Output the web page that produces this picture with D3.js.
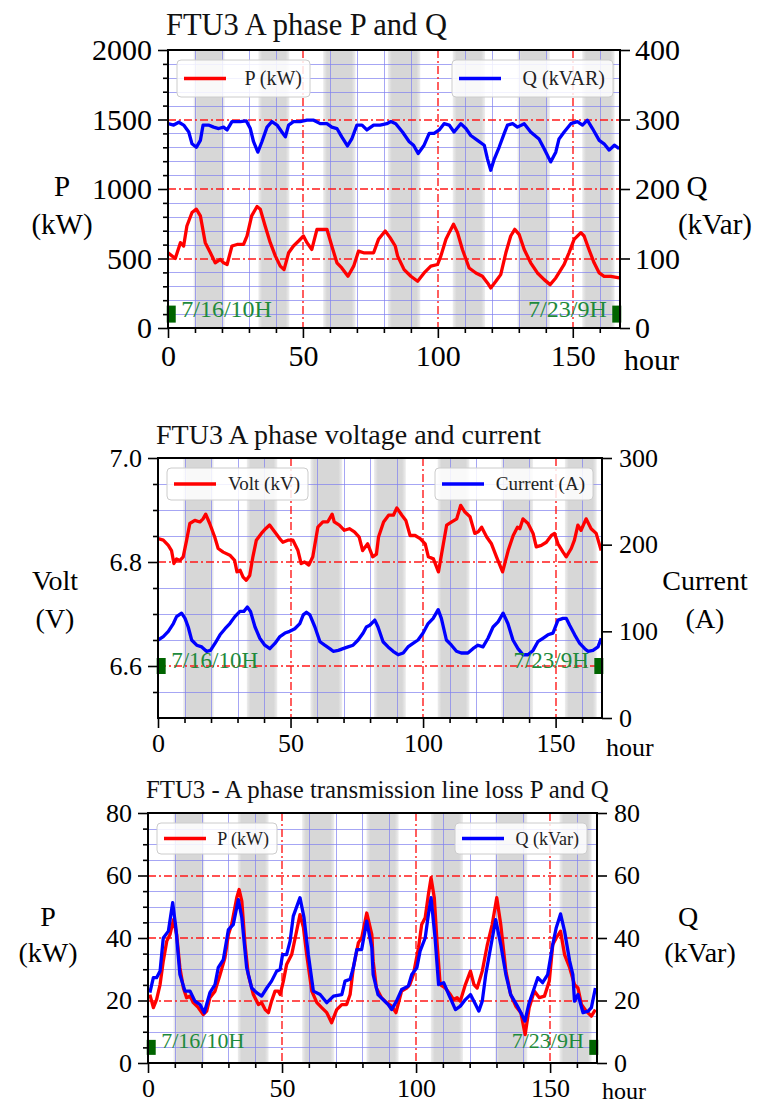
<!DOCTYPE html>
<html><head><meta charset="utf-8">
<script src="https://cdn.jsdelivr.net/npm/d3@7"></script>
<style>body{margin:0;background:#fff}svg{display:block}text{font-family:"Liberation Serif","Times New Roman",serif}</style>
</head><body><svg id="c" width="757" height="1104"></svg>
<script>
// ---------------- shared data ----------------
const X_MAX = 167.5;
const xMajorTicks = [0, 50, 100, 150];
const xMinorTicks = [0,10,20,30,40,50,60,70,80,90,100,110,120,130,140,150,160];
const bandStart = [9.5, 33.5, 57.5, 81.5, 105.5, 129.5, 153.5];
const bandEnd   = [21, 45, 69.5, 93.5, 117.5, 141.5, 165.5];
const startLabel = "7/16/10H", endLabel = "7/23/9H";
const markerHours = [1.2, 166.3];

// ---------------- panel 1: P and Q ----------------
const p1Title = "FTU3 A phase P and Q";
const p1Legend = ["P (kW)", "Q (kVAR)"];
const p1LeftTicks = [0, 500, 1000, 1500, 2000];
const p1RightTicks = [0, 100, 200, 300, 400];
const p1P = [[0,541],[2.7,500],[4.6,614],[5.8,590],[7,734],[8.9,831],[10.5,855],[12,807],[13.8,614],[15.7,541],[17.5,469],[19.4,493],[20.6,469],[21.9,457],[23.7,590],[25.6,601],[28,601],[29.3,662],[31,807],[33,874],[34.2,855],[36,734],[37.9,614],[39.8,517],[41.6,445],[43,420],[44.7,541],[46.5,590],[48.4,626],[50.2,662],[51.5,614],[53.3,565],[55.2,710],[57.7,710],[58.9,710],[60.7,590],[62.6,469],[64.4,432],[66.7,372],[68.8,445],[70.6,553],[72.5,541],[74.3,541],[76.2,541],[78,638],[80.5,698],[82.3,650],[84.2,590],[85.1,517],[87.5,420],[90,372],[92.5,336],[94.9,396],[97.4,445],[99.9,457],[101.1,517],[103,638],[104.2,686],[105.8,746],[107.3,686],[109.1,565],[111.6,432],[114.1,396],[116.5,372],[118.4,324],[119.6,288],[121.5,336],[123.3,384],[125.2,541],[127,662],[128.5,710],[130.1,674],[132,565],[134.4,469],[136.9,396],[139.4,348],[141.6,312],[143.7,360],[145.6,420],[146.8,457],[148.6,541],[150.5,638],[153,686],[154.2,662],[156,565],[157.9,469],[159.8,396],[161.6,372],[164.1,372],[167.2,360]];
const p1Q = [[0,294],[2.1,292],[4,296],[5.8,292],[7.7,282],[8.9,265],[10.5,260],[12,270],[13,292],[15,292],[16.9,289],[18.8,287],[20.6,289],[21.9,285],[23.7,297],[26.8,297],[29,298],[30.5,287],[31.7,268],[33.3,253],[34.8,268],[36.7,289],[38.5,297],[40.4,292],[42.2,282],[43.5,275],[44.7,292],[46.5,297],[49,297],[51.5,299],[54,299],[56.4,294],[58.9,294],[60.7,289],[62.6,287],[64.4,275],[66.5,262],[68.1,272],[70,292],[71.9,292],[73.7,285],[76.2,292],[78.6,292],[81.1,294],[82.6,297],[84.4,294],[86.9,282],[89.4,268],[91,263],[92.7,251],[94.9,263],[96.8,280],[98.6,280],[100.5,285],[102.3,294],[104.2,292],[106,282],[108.5,294],[110.4,287],[112.2,277],[114.7,270],[117.2,263],[118.4,243],[119.6,227],[120.9,243],[122.7,260],[124.6,280],[125.8,292],[127.7,294],[129.5,289],[132,294],[134.4,282],[137.5,272],[139.4,258],[141.8,239],[143.7,253],[144.9,272],[146.8,282],[149.3,294],[151.7,297],[153.6,292],[155.4,299],[157.3,287],[159.8,270],[161.6,265],[163.5,256],[165.4,263],[167.2,258]];

// ---------------- panel 2: voltage and current ----------------
const p2Title = "FTU3 A phase voltage and current";
const p2Legend = ["Volt (kV)", "Current (A)"];
const p2LeftTicks = [6.6, 6.8, 7.0];
const p2RightTicks = [0, 100, 200, 300];
const p2Volt = [[0,6.845],[2,6.842],[3.9,6.832],[5.1,6.822],[6,6.797],[7,6.806],[8.3,6.803],[9.5,6.81],[10.8,6.842],[12,6.874],[13.9,6.88],[15.8,6.877],[17,6.883],[18,6.892],[19.5,6.874],[21.4,6.848],[22.7,6.826],[24.6,6.819],[27.1,6.813],[28.9,6.803],[29.8,6.781],[31,6.784],[32.1,6.771],[33.3,6.765],[34.6,6.774],[35.8,6.81],[37.1,6.842],[39,6.855],[40.6,6.864],[42.1,6.871],[44,6.858],[45.9,6.845],[47.1,6.838],[49,6.842],[50.9,6.842],[52.8,6.822],[54,6.797],[55.3,6.8],[56.9,6.794],[58.4,6.81],[60.3,6.867],[62.2,6.877],[64,6.877],[65.7,6.892],[66.5,6.877],[68.4,6.871],[70.3,6.861],[72.2,6.864],[74.1,6.858],[75.9,6.848],[77.2,6.822],[79.1,6.835],[81,6.81],[82.4,6.815],[83.2,6.848],[85.1,6.877],[87,6.89],[88.8,6.89],[90.1,6.904],[92,6.89],[93.5,6.88],[95.1,6.851],[97,6.851],[98.9,6.845],[100.8,6.835],[102,6.81],[103.9,6.806],[105.8,6.781],[107,6.816],[108.9,6.871],[110.8,6.877],[112.7,6.883],[114.2,6.909],[115.8,6.896],[117.7,6.887],[119.5,6.855],[120.8,6.858],[122.1,6.867],[124,6.848],[125.8,6.835],[127.7,6.81],[130,6.781],[132.1,6.822],[134,6.851],[135.6,6.867],[136.5,6.864],[137.7,6.883],[139.6,6.874],[141.5,6.855],[142.7,6.829],[144.6,6.832],[146.5,6.838],[148.4,6.851],[149.6,6.855],[150.9,6.835],[152.8,6.819],[154,6.81],[155.9,6.826],[157.1,6.842],[158.4,6.871],[159.6,6.861],[161.5,6.883],[163.4,6.864],[165.3,6.855],[167.2,6.822]];
const p2Current = [[0,90],[2,94],[3.9,100],[5.8,109],[7,117],[8.9,121],[10.2,115],[11.4,105],[12.7,90],[14.6,84],[16.5,82],[18.3,77],[19.8,78],[21.5,86],[23.4,96],[25.3,103],[27.1,109],[29,117],[30.9,123],[32.4,123],[33.7,128],[34.9,123],[36.6,105],[38.4,92],[40.3,84],[42.2,80],[44.1,86],[46,94],[47.9,98],[49.7,100],[51.6,103],[53.5,109],[54.8,119],[56,122],[57.3,119],[59.2,105],[61.1,88],[62.9,84],[64.8,80],[66.1,77],[68,78],[69.8,80],[71.7,82],[73.6,84],[75.5,90],[77.4,98],[78.6,105],[79.9,107],[81.8,113],[83,105],[84.9,88],[86.8,82],[88.7,77],[90.6,73],[92.5,75],[94.3,82],[96.2,86],[98.1,90],[100,98],[101.9,109],[103.8,115],[105.7,125],[106.9,115],[108.8,90],[110.7,84],[112.6,77],[114.4,75],[116.9,75],[118.8,80],[120.7,84],[122.6,82],[124.5,92],[126.4,105],[128.3,111],[130.2,121],[132,109],[133.9,90],[135.8,80],[137.7,73],[139.6,73],[141.5,78],[143.3,88],[145.2,92],[147.1,96],[149,98],[150.9,113],[152.8,115],[154,115],[155.3,107],[157.2,96],[159.1,86],[161,80],[162.2,77],[164.1,78],[166,82],[167.2,92]];

// ---------------- panel 3: line loss P and Q ----------------
const p3Title = "FTU3 - A phase transmission line loss P and Q";
const p3Legend = ["P (kW)", "Q (kVar)"];
const p3LeftTicks = [0, 20, 40, 60, 80];
const p3RightTicks = [0, 20, 40, 60, 80];
const p3P = [[0.7,21.9],[2,17.7],[3.2,20.3],[4.5,25.1],[5.7,32.6],[7,39],[8.2,41.1],[9.5,45.9],[10.7,41.1],[11.9,30.5],[13.2,24],[14.4,20.9],[15.7,21.4],[16.9,19.3],[18.8,17.7],[20.6,15.5],[21.9,16.6],[23.1,20.9],[25,23],[26.9,28.3],[28.7,33.7],[30,41.1],[31.2,44.3],[33.1,52.9],[34,55.5],[35,51.8],[36.2,37.9],[37.4,28.3],[39.3,21.9],[41.2,18.7],[42.4,19.3],[43.7,17.1],[44.9,16.1],[46.1,19.8],[47.4,23],[48.6,23],[49.3,21.9],[50.5,26.2],[51.7,31.5],[53.6,34.7],[54.9,40],[56.7,47.5],[58,43.3],[59.2,34.7],[61.1,23],[63,19.3],[64.8,17.7],[66.7,16.1],[68.5,12.9],[70.4,17.1],[72.3,18.7],[74.1,18.7],[75.4,21.9],[76.6,30.5],[78.5,38.5],[79.7,40],[81.6,48],[83.5,41.1],[84,32.6],[85.2,24],[87.1,20.9],[89,19.3],[90.9,18.2],[92.5,16.1],[94.6,23],[96.5,24],[97.7,25.1],[99,28.3],[100.9,36.9],[102.1,44.3],[103.4,46.5],[104.6,53.9],[105.6,59.3],[106.8,52.9],[107.8,38.9],[109,25.1],[110.9,24],[112.8,21.9],[114,20.3],[115.3,20.9],[116.5,19.8],[118.4,25.1],[120.3,29.4],[121.6,25.1],[122.8,24],[124.7,29.4],[126.6,37.9],[128.4,44.3],[130.1,52.9],[131.6,44.3],[133.5,29.4],[135.3,21.9],[137.2,18.2],[139.1,16.1],[140.7,9.1],[142.2,17.7],[144.1,23],[146,20.9],[147.9,21.4],[149.7,26.2],[151,37.9],[152.3,40],[153.9,42.2],[155.4,34.7],[157.3,30.5],[159.1,25.1],[160.4,24],[161.7,18.7],[163.5,16.6],[165.4,15],[166.9,17.1]];
const p3Q = [[0.7,22.5],[2,27.3],[3.2,27.3],[4.5,29.4],[5.7,40],[7.6,42.2],[9.2,51.3],[10.4,43.3],[11.9,28.3],[13.8,23],[15.7,23],[17.5,19.8],[19.4,18.7],[21,16.1],[23.1,22.5],[25,25.1],[26.2,30.5],[28.1,33.1],[30,42.7],[31.8,44.3],[33.7,52.3],[35,46.5],[36.8,30.5],[38.7,24],[40.5,22.5],[42.4,21.4],[44.3,24],[46.1,26.2],[48,29.4],[49.3,29.9],[50.2,34.7],[51.7,34.7],[53,39],[54.2,47],[56.7,52.9],[58.2,46.5],[59.8,34.7],[61.7,23],[64.2,21.9],[66.7,19.3],[69.2,21.4],[72.3,21.9],[73.5,26.2],[75.4,26.8],[76.6,30.5],[77.9,36.3],[79.7,36.3],[81.6,45.4],[83.5,36.9],[84,28.3],[85.8,21.9],[87.7,20.3],[89.6,18.7],[90.9,17.1],[92.7,19.8],[94.6,23.5],[97.1,24.6],[98.4,28.3],[100.3,30.5],[101.5,35.8],[103.4,40],[104.6,47.5],[105.6,52.9],[107.1,40],[108.4,25.1],[110.3,25.7],[112.2,21.9],[114.7,17.1],[116.5,18.2],[118.4,20.3],[120.3,21.9],[122.2,18.7],[123.4,16.6],[124.7,19.8],[126,28.3],[127.8,36.9],[129.7,45.9],[131.6,37.9],[133.5,28.3],[135.3,21.9],[137.8,18.2],[139.1,16.1],[140.6,13.4],[142.2,19.3],[143.5,22.5],[145.4,27.3],[147.2,25.7],[149.1,28.3],[151,37.9],[152.3,43.3],[153.9,47.7],[155.4,42.2],[157.3,32.6],[158.5,28.3],[159.1,19.8],[160.4,21.9],[162.3,16.1],[164.2,16.6],[165.4,17.7],[166.9,24]];

// ---------------- layout / style (not data) ----------------
const panels = [
  { title:p1Title, titleSize:30.5, titleDy:15, l:168, r:620, t:50, b:328,
    yL:[0,2000], yR:[0,400], minorStep:100, majors:p1LeftTicks, leftTicks:p1LeftTicks, rightTicks:p1RightTicks,
    fmtL:d3.format("d"), fs:30, xPad:7, rPad:5, hourFs:30, hourY:370, hourX:4, legFs:20,
    series:[{data:p1P, axis:"L", color:"#ff0000"},{data:p1Q, axis:"R", color:"#0000ff"}],
    legend:[{text:p1Legend[0], color:"#ff0000", x:177, w:133},{text:p1Legend[1], color:"#0000ff", x:452, w:161}], legY:60, legH:37,
    markerVal:100, markerH:17, greenFs:24, greenY:317,
    sideL:[["P",62,196],["(kW)",62,234]], sideR:[["Q",697,196],["(kVar)",715,234]], sideFs:29 },
  { title:p2Title, titleSize:28, titleDy:14, l:158, r:602, t:458, b:718,
    yL:[6.5,7.0], yR:[0,300], minorStep:0.05, majors:p2LeftTicks, leftTicks:p2LeftTicks, rightTicks:p2RightTicks,
    fmtL:d3.format(".1f"), fs:26, xPad:6, rPad:7, hourFs:26, hourY:756, hourX:4, legFs:19,
    series:[{data:p2Volt, axis:"L", color:"#ff0000"},{data:p2Current, axis:"R", color:"#0000ff"}],
    legend:[{text:p2Legend[0], color:"#ff0000", x:167, w:141},{text:p2Legend[1], color:"#0000ff", x:435, w:158}], legY:468, legH:32,
    markerVal:6.6, markerH:16, greenFs:23, greenY:668,
    sideL:[["Volt",55,590],["(V)",55,628]], sideR:[["Current",705,590],["(A)",705,628]], sideFs:28 },
  { title:p3Title, titleSize:24.8, titleDy:15, l:148, r:597, t:813, b:1063,
    yL:[0,80], yR:[0,80], minorStep:5, majors:p3LeftTicks, leftTicks:p3LeftTicks, rightTicks:p3RightTicks,
    fmtL:d3.format("d"), fs:26, xPad:6, rPad:7, hourFs:24, hourY:1098.5, hourX:5, legFs:18,
    series:[{data:p3P, axis:"L", color:"#ff0000"},{data:p3Q, axis:"R", color:"#0000ff"}],
    legend:[{text:p3Legend[0], color:"#ff0000", x:157, w:120},{text:p3Legend[1], color:"#0000ff", x:455, w:132}], legY:823, legH:31,
    markerVal:5, markerH:15, greenFs:22, greenY:1048,
    sideL:[["P",48,926],["(kW)",48,962]], sideR:[["Q",688,926],["(kVar)",700,962]], sideFs:28 }
];

const svg = d3.select("#c");
const defs = svg.append("defs");
const grad = defs.append("linearGradient").attr("id","bandGrad").attr("x1","0").attr("x2","1").attr("y1","0").attr("y2","0");
[[0,"#eeeeee"],[0.12,"#d7d7d7"],[0.88,"#d7d7d7"],[1,"#eeeeee"]].forEach(([o,c])=>grad.append("stop").attr("offset",o).attr("stop-color",c));

const px = v => Math.round(v) + 0.5;

panels.forEach((cfg,pi)=>{
  const g = svg.append("g");
  const x = d3.scaleLinear().domain([0,X_MAX]).range([cfg.l,cfg.r]);
  const yL = d3.scaleLinear().domain(cfg.yL).range([cfg.b,cfg.t]);
  const yR = d3.scaleLinear().domain(cfg.yR).range([cfg.b,cfg.t]);
  const cid = "clip"+pi;
  defs.append("clipPath").attr("id",cid).append("rect").attr("x",cfg.l).attr("y",cfg.t).attr("width",cfg.r-cfg.l).attr("height",cfg.b-cfg.t);

  // title
  g.append("text").attr("x",cfg.l-2).attr("y",cfg.t-cfg.titleDy).attr("font-size",cfg.titleSize).attr("fill","#111").text(cfg.title);

  // bands
  g.append("g").selectAll("rect").data(d3.zip(bandStart,bandEnd)).join("rect")
    .attr("x",d=>x(d[0])).attr("width",d=>x(Math.min(d[1],X_MAX))-x(d[0]))
    .attr("y",cfg.t).attr("height",cfg.b-cfg.t).attr("fill","url(#bandGrad)");

  // minor grid
  const eps = 1e-6;
  const nMinor = Math.round((cfg.yL[1]-cfg.yL[0])/cfg.minorStep);
  const minorY = d3.range(1,nMinor).map(i=>cfg.yL[0]+i*cfg.minorStep)
    .filter(v=>!cfg.majors.some(m=>Math.abs(m-v)<eps));
  const minorX = xMinorTicks.filter(v=>v>0 && !xMajorTicks.includes(v));
  const grid = g.append("g").attr("stroke","#8080f0").attr("stroke-opacity",0.7).attr("stroke-width",1).attr("shape-rendering","crispEdges");
  grid.selectAll(".vy").data(minorX).join("line").attr("x1",d=>px(x(d))).attr("x2",d=>px(x(d))).attr("y1",cfg.t).attr("y2",cfg.b);
  grid.selectAll(".hy").data(minorY).join("line").attr("y1",d=>px(yL(d))).attr("y2",d=>px(yL(d))).attr("x1",cfg.l).attr("x2",cfg.r);
  // major grid (red dash-dot)
  const red = g.append("g").attr("stroke","#ff1a1a").attr("stroke-width",1.4).attr("stroke-dasharray","8,3,2,3");
  red.selectAll(".mx").data(xMajorTicks.filter(v=>v>0)).join("line").attr("x1",d=>Math.round(x(d))).attr("x2",d=>Math.round(x(d))).attr("y1",cfg.t).attr("y2",cfg.b);
  red.selectAll(".my").data(cfg.majors.filter(v=>v>cfg.yL[0]+eps && v<cfg.yL[1]-eps)).join("line").attr("y1",d=>Math.round(yL(d))).attr("y2",d=>Math.round(yL(d))).attr("x1",cfg.l).attr("x2",cfg.r);

  // lines
  const lg = g.append("g").attr("clip-path",`url(#${cid})`);
  cfg.series.forEach(s=>{
    const ys = s.axis==="L"? yL : yR;
    lg.append("path").datum(s.data).attr("fill","none").attr("stroke",s.color).attr("stroke-width",3.3)
      .attr("stroke-linejoin","round").attr("d",d3.line().x(d=>x(d[0])).y(d=>ys(d[1])));
  });

  // markers and green labels
  g.append("g").selectAll("rect").data(markerHours).join("rect")
    .attr("x",d=>x(d)-4.5).attr("y",yL(cfg.markerVal)-cfg.markerH/2).attr("width",9).attr("height",cfg.markerH).attr("fill","#006400");
  g.append("text").attr("x",x(markerHours[0])+10).attr("y",cfg.greenY).attr("font-size",cfg.greenFs).attr("fill","#1e8a3c").text(startLabel);
  g.append("text").attr("x",x(markerHours[1])-10).attr("y",cfg.greenY).attr("text-anchor","end").attr("font-size",cfg.greenFs).attr("fill","#1e8a3c").text(endLabel);

  // legends
  cfg.legend.forEach(L=>{
    const lgG = g.append("g");
    lgG.append("rect").attr("x",L.x).attr("y",cfg.legY).attr("width",L.w).attr("height",cfg.legH).attr("rx",4)
      .attr("fill","#fff").attr("fill-opacity",0.85).attr("stroke","#cccccc").attr("stroke-width",1);
    const cy = cfg.legY + cfg.legH/2;
    lgG.append("line").attr("x1",L.x+7).attr("x2",L.x+49).attr("y1",cy).attr("y2",cy).attr("stroke",L.color).attr("stroke-width",3.3);
    lgG.append("text").attr("x",L.x+L.w-8).attr("y",cy).attr("dy","0.34em").attr("text-anchor","end").attr("font-size",cfg.legFs).attr("fill","#222").text(L.text);
  });

  // spines
  g.append("rect").attr("x",cfg.l).attr("y",cfg.t).attr("width",cfg.r-cfg.l).attr("height",cfg.b-cfg.t)
    .attr("fill","none").attr("stroke","#000").attr("stroke-width",2);

  // axes
  const styleAxis = sel=>{ sel.select(".domain").remove(); sel.selectAll(".tick line").attr("stroke","#000").attr("stroke-width",1.6);
    sel.selectAll("text").attr("font-family","Liberation Serif, serif").attr("font-size",cfg.fs).attr("fill","#000"); };
  g.append("g").attr("transform",`translate(${cfg.l},0)`).call(d3.axisLeft(yL).tickValues(minorY).tickSize(5).tickFormat("")).call(styleAxis);
  g.append("g").attr("transform",`translate(${cfg.l},0)`).call(d3.axisLeft(yL).tickValues(cfg.leftTicks).tickSize(10).tickPadding(6).tickFormat(cfg.fmtL)).call(styleAxis);
  g.append("g").attr("transform",`translate(${cfg.r},0)`).call(d3.axisRight(yR).tickValues(cfg.rightTicks).tickSize(10).tickPadding(cfg.rPad).tickFormat(d3.format("d"))).call(styleAxis);
  g.append("g").attr("transform",`translate(0,${cfg.b})`).call(d3.axisBottom(x).tickValues(minorX).tickSize(5).tickFormat("")).call(styleAxis);
  g.append("g").attr("transform",`translate(0,${cfg.b})`).call(d3.axisBottom(x).tickValues(xMajorTicks).tickSize(10).tickPadding(cfg.xPad).tickFormat(d3.format("d"))).call(styleAxis);
  g.append("text").attr("x",cfg.r+cfg.hourX).attr("y",cfg.hourY).attr("font-size",cfg.hourFs).attr("fill","#000").text("hour");

  // side labels
  cfg.sideL.concat(cfg.sideR).forEach(([t,cx,cy])=>{
    g.append("text").attr("x",cx).attr("y",cy).attr("text-anchor","middle").attr("font-size",cfg.sideFs).attr("fill","#000").text(t);
  });
});
</script></body></html>
